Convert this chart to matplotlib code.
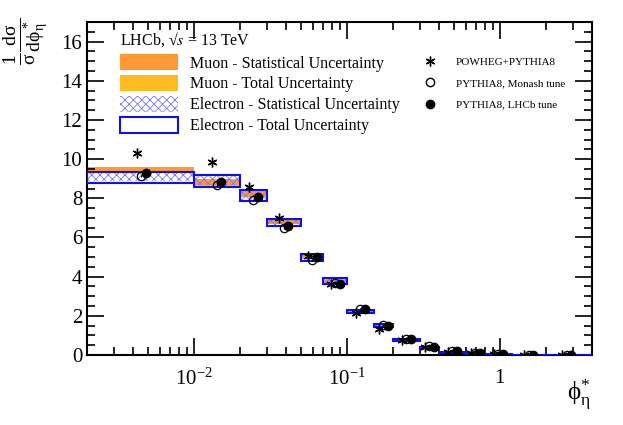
import numpy as np
import matplotlib
matplotlib.use("Agg")
import matplotlib.pyplot as plt
from matplotlib.patches import Rectangle, Patch
from matplotlib.lines import Line2D
from matplotlib.ticker import LogLocator, MultipleLocator, FuncFormatter

plt.rcParams['font.family'] = ['Liberation Serif', 'DejaVu Serif']
plt.rcParams['mathtext.fontset'] = 'stix'
plt.rcParams['mathtext.default'] = 'regular'
plt.rcParams['hatch.linewidth'] = 0.6

# bin edges in phi*_eta (first bin drawn from the axis edge)
edges = [0.002, 0.01, 0.02, 0.03, 0.05, 0.07, 0.1, 0.15, 0.2, 0.3, 0.4,
         0.6, 0.8, 1.2, 2.0, 4.0]

# muon measurement
mu_val = [9.48, 8.83, 8.22, 6.80, 4.98, 3.78, 2.24, 1.52, 0.78, 0.40,
          0.16, 0.08, 0.04, 0.015, 0.004]
mu_stat = [0.12, 0.16, 0.14, 0.10, 0.08, 0.07, 0.05, 0.04, 0.03, 0.02,
           0.01, 0.008, 0.004, 0.002, 0.001]
mu_tot = [0.12, 0.18, 0.16, 0.12, 0.10, 0.08, 0.06, 0.05, 0.03, 0.02,
          0.012, 0.008, 0.004, 0.002, 0.001]

# electron measurement
el_val = [9.08, 8.90, 8.12, 6.78, 4.98, 3.78, 2.24, 1.52, 0.75, 0.38,
          0.14, 0.07, 0.035, 0.012, 0.003]
el_stat = [0.22, 0.24, 0.22, 0.14, 0.14, 0.11, 0.06, 0.05, 0.03, 0.03,
           0.02, 0.01, 0.005, 0.003, 0.001]
el_tot = [0.28, 0.30, 0.28, 0.18, 0.18, 0.14, 0.08, 0.07, 0.05, 0.04,
          0.03, 0.02, 0.01, 0.005, 0.002]

# predictions
x_pred = [0.00452, 0.01414, 0.0245, 0.0387, 0.0592, 0.0837, 0.1225, 0.1732,
          0.245, 0.3464, 0.49, 0.693, 0.98, 1.55, 2.75]
powheg = [10.30, 9.83, 8.60, 6.99, 5.03, 3.62, 2.13, 1.35, 0.78, 0.42,
          0.17, 0.09, 0.04, 0.015, 0.004]
monash = [9.12, 8.69, 7.89, 6.50, 4.85, 3.70, 2.36, 1.52, 0.80, 0.44,
          0.18, 0.09, 0.04, 0.015, 0.004]
lhcb = [9.29, 8.83, 8.06, 6.61, 5.00, 3.62, 2.34, 1.50, 0.80, 0.43,
        0.18, 0.09, 0.04, 0.015, 0.004]

fig = plt.figure(figsize=(6.23, 4.25), dpi=100)
ax = fig.add_axes([0.1397, 0.1647, 0.8103, 0.7835])

orange = '#ff9933'
yellow = '#ffbb22'
blue = '#1010ee'
hatchc = '#7878ff'

for i in range(len(mu_val)):
    x0, x1 = edges[i], edges[i + 1]
    w = x1 - x0
    ax.add_patch(Rectangle((x0, mu_val[i] - mu_tot[i]), w, 2 * mu_tot[i],
                           facecolor=yellow, edgecolor='none', zorder=1))
    ax.add_patch(Rectangle((x0, mu_val[i] - mu_stat[i]), w, 2 * mu_stat[i],
                           facecolor=orange, edgecolor='none', zorder=1.5))
    ax.add_patch(Rectangle((x0, el_val[i] - el_stat[i]), w, 2 * el_stat[i],
                           facecolor='white' if i == 0 else 'none',
                           edgecolor=hatchc, lw=0, hatch='xxxx', zorder=2))
    ax.add_patch(Rectangle((x0, el_val[i] - el_tot[i]), w, 2 * el_tot[i],
                           facecolor='none', edgecolor=blue, lw=1.5, zorder=3))

x_pred = np.array(x_pred)
f = 1.07
ax.errorbar(x_pred / f, powheg, yerr=0.05, fmt='none', ecolor='k', lw=0.8, zorder=4)
ax.plot(x_pred / f, powheg, ls='none', marker=(6, 2, 0), ms=7, mew=1.0,
        color='k', zorder=5)
ax.errorbar(x_pred, monash, yerr=0.05, fmt='o', mfc='none', mec='k',
            ecolor='k', ms=6, mew=0.9, lw=0.8, zorder=5)
ax.errorbar(x_pred * f, lhcb, yerr=0.05, fmt='o', color='k', ms=6,
            lw=0.8, zorder=6)

ax.set_xscale('log')
ax.set_xlim(0.002, 4.0)
ax.set_ylim(0, 17)
ax.yaxis.set_major_locator(MultipleLocator(2))
ax.yaxis.set_minor_locator(MultipleLocator(0.5))
ax.xaxis.set_major_locator(LogLocator(base=10, numticks=10))
ax.xaxis.set_minor_locator(LogLocator(base=10, subs=np.arange(2, 10), numticks=20))


def xfmt(v, pos):
    if abs(v - 1) < 1e-9:
        return '1'
    e = int(round(np.log10(v)))
    return r'$10^{%d}$' % e


ax.xaxis.set_major_formatter(FuncFormatter(xfmt))
ax.tick_params(which='both', direction='in', top=True, right=True,
               labelsize=15, width=1.2)
ax.tick_params(which='major', length=12)
ax.tick_params(which='minor', length=6)
ax.tick_params(axis='x', which='major', pad=10)
for s in ax.spines.values():
    s.set_linewidth(1.5)

fig.text(0.002, 0.958, r'$\frac{1}{\sigma}\frac{d\sigma}{d\phi^*_\eta}$',
         fontsize=20, rotation=90, ha='left', va='top')
fig.text(0.948, 0.03, r'$\phi^{*}_{\eta}$', fontsize=18, ha='right', va='bottom')

h1 = [Patch(facecolor=orange, edgecolor='none'),
      Patch(facecolor=yellow, edgecolor='none'),
      Patch(facecolor='none', edgecolor=hatchc, lw=0, hatch='xxxx'),
      Patch(facecolor='none', edgecolor=blue, lw=1.5)]
l1 = ['Muon - Statistical Uncertainty', 'Muon - Total Uncertainty',
      'Electron - Statistical Uncertainty', 'Electron - Total Uncertainty']
leg1 = ax.legend(h1, l1, loc='upper left', bbox_to_anchor=(0.05, 1.0),
                 frameon=False, fontsize=11.5, handlelength=3.6, handleheight=1.15,
                 labelspacing=0.22, handletextpad=0.75, borderpad=0,
                 title='LHCb, √' + r'$\mathit{s}$' + ' = 13 TeV', title_fontsize=11.5)
leg1._legend_box.align = 'left'
leg1._legend_box.sep = 4
ax.add_artist(leg1)

h2 = [Line2D([], [], ls='none', marker=(6, 2, 0), ms=7, color='k'),
      Line2D([], [], ls='none', marker='o', mfc='none', mec='k', ms=6),
      Line2D([], [], ls='none', marker='o', color='k', ms=6)]
l2 = ['POWHEG+PYTHIA8', 'PYTHIA8, Monash tune', 'PYTHIA8, LHCb tune']
ax.legend(h2, l2, loc='upper left', bbox_to_anchor=(0.643, 0.925),
          frameon=False, fontsize=8, handlelength=1.5, labelspacing=1.05,
          handletextpad=1.6)

fig.savefig('out.png', dpi=100)
